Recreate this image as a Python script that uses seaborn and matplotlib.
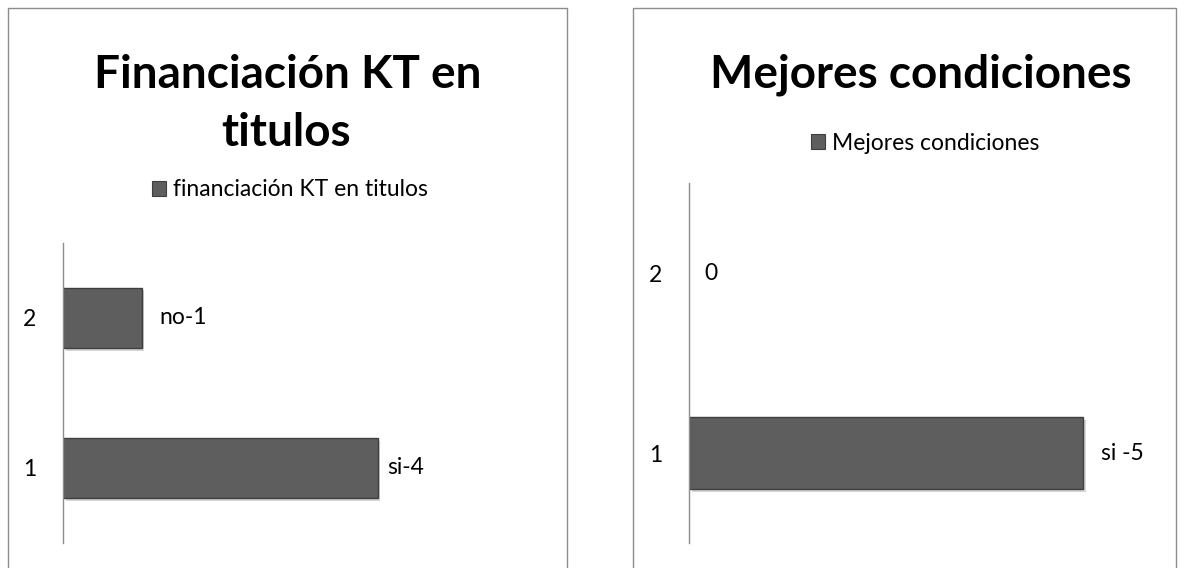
import matplotlib
matplotlib.use("Agg")
import matplotlib.pyplot as plt
from matplotlib.patches import Rectangle, Patch
import matplotlib.patheffects as pe
import seaborn as sns
import pandas as pd

# ---- data ----
categories = ["2", "1"]
left_values = [1, 4]
left_labels = ["no-1", "si-4"]
right_values = [0, 5]
right_labels = ["0", "si -5"]
left_title_lines = ["Financiación KT en", "titulos"]
left_legend = "financiación KT en titulos"
right_title = "Mejores condiciones"
right_legend = "Mejores condiciones"

sns.set_theme(style="white")
plt.rcParams['font.family'] = ['Lato', 'DejaVu Sans']
plt.rcParams['text.color'] = 'black'

W, H = 1184, 568
fig = plt.figure(figsize=(W / 100, H / 100), dpi=100)
fig.patch.set_facecolor("white")

def fx(px):
    return px / W

def fy(py):
    return 1 - py / H

# panel borders
for x0, x1 in [(8, 567), (633, 1176)]:
    fig.patches.append(Rectangle((fx(x0), fy(572)), fx(x1 - x0), (572 - 8) / H,
                                 transform=fig.transFigure, fill=False,
                                 edgecolor="#8c8c8c", linewidth=1.0))

BAR = "#5e5e5e"
EDGE = "#3f3f3f"
LBL = 16.5


def panel(ax_rect, values, labels, pads):
    ax = fig.add_axes(ax_rect)
    df = pd.DataFrame({"cat": categories, "val": values})
    sns.barplot(data=df, x="val", y="cat", order=categories, orient="h",
                color=BAR, width=0.4, saturation=1, edgecolor=EDGE,
                linewidth=1.0, ax=ax)
    for p in ax.patches:
        if p.get_width() == 0:
            p.set_linewidth(0)
        else:
            p.set_path_effects([pe.SimplePatchShadow(offset=(2, -2), shadow_rgbFace="#999999", alpha=0.4),
                                pe.Normal()])
    ax.set_xlim(0, 6)
    ax.set_ylim(1.5, -0.5)
    ax.set_xlabel("")
    ax.set_ylabel("")
    ax.set_xticks([])
    for s in ["top", "right", "bottom"]:
        ax.spines[s].set_visible(False)
    ax.spines["left"].set_color("#8c8c8c")
    ax.spines["left"].set_linewidth(1.0)
    ax.tick_params(axis="y", length=0, pad=19, labelsize=LBL, labelcolor="black")
    ax.patch.set_alpha(0)
    cont = ax.containers[0]
    for i, (lab, pad) in enumerate(zip(labels, pads)):
        labs = [l if j == i else "" for j, l in enumerate(labels)]
        ax.bar_label(cont, labels=labs, padding=pad, fontsize=LBL, color="black")
    return ax

axL = panel([fx(63), fy(543), fx(535 - 63), (543 - 243) / H], left_values, left_labels, [13, 7])
axR = panel([fx(689), fy(543), fx(1162 - 689), (543 - 183) / H], right_values, right_labels, [11, 13])

# titles
fig.text(fx(288), fy(75), left_title_lines[0], ha="center", va="center", fontsize=33,
         fontweight="bold")
fig.text(fx(286), fy(133), left_title_lines[1], ha="center", va="center", fontsize=33,
         fontweight="bold")
fig.text(fx(921), fy(75), right_title, ha="center", va="center", fontsize=33,
         fontweight="bold")

# legends
for ax, txt, cx, cy in [(axL, left_legend, 290, 190), (axR, right_legend, 925, 143)]:
    h = Patch(facecolor=BAR, edgecolor=EDGE, linewidth=0.8)
    ax.legend(handles=[h], labels=[txt], loc="center",
              bbox_to_anchor=(fx(cx), fy(cy)), bbox_transform=fig.transFigure,
              frameon=False, fontsize=LBL, handlelength=0.6, handleheight=0.6,
              handletextpad=0.3, borderpad=0)

fig.savefig("out.png", dpi=100)
